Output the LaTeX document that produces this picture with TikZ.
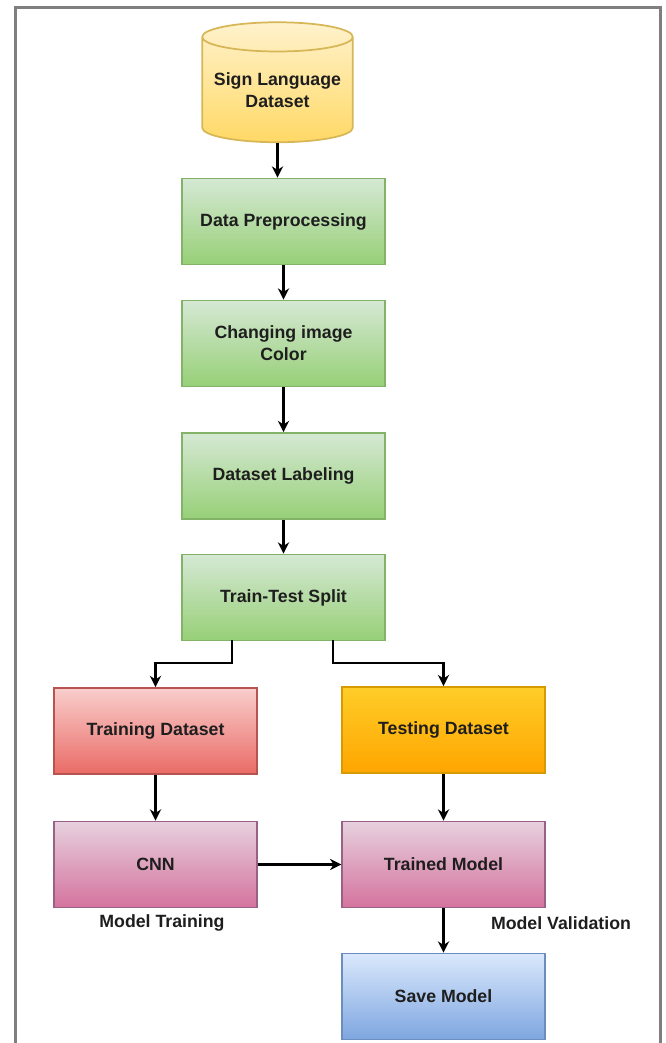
\documentclass[tikz,border=0pt]{standalone}
\usepackage{fontspec}
\setmainfont{Liberation Sans}
\usetikzlibrary{shapes.geometric,arrows.meta}

\definecolor{frameGray}{HTML}{7F7F7F}
\definecolor{txtDark}{HTML}{1E1E1E}
\definecolor{dbTop}{HTML}{FFF2CC}
\definecolor{dbBot}{HTML}{FFD966}
\definecolor{dbLine}{HTML}{D6B656}
\definecolor{grTop}{HTML}{D5E8D4}
\definecolor{grBot}{HTML}{97D077}
\definecolor{grLine}{HTML}{82B366}
\definecolor{rdTop}{HTML}{F8CECC}
\definecolor{rdBot}{HTML}{EA6B66}
\definecolor{rdLine}{HTML}{B85450}
\definecolor{orTop}{HTML}{FFCD28}
\definecolor{orBot}{HTML}{FFA500}
\definecolor{orLine}{HTML}{D79B00}
\definecolor{pkTop}{HTML}{E6D0DE}
\definecolor{pkBot}{HTML}{D5739D}
\definecolor{pkLine}{HTML}{996185}
\definecolor{blTop}{HTML}{DAE8FC}
\definecolor{blBot}{HTML}{7EA6E0}
\definecolor{blLine}{HTML}{6C8EBF}

\begin{document}
\begin{tikzpicture}[x=0.75pt, y=-0.75pt]
\tikzset{ >={Stealth[length=8.5pt,width=8.5pt]},
  txt/.style={font=\fontsize{13.3}{16.5}\selectfont\bfseries, text=txtDark, align=center},
  blk/.style={txt, rectangle, draw, line width=1.3pt, minimum width=152pt, minimum height=64.5pt, inner sep=2pt},
  green/.style={blk, draw=grLine, top color=grTop, bottom color=grBot},
  flw/.style={->, line width=2.1pt},
}

\useasboundingbox (0,0) rectangle (665,1043);

%\draw [lightgray, dashed](0,0) grid[step=50] (665,1043);

%%% Moldura
\draw [frameGray, line width=2.25pt] (15,1045) -- (15,7) -- (660,7) -- (660,1045);

%%% Blocos

% base de dados
\node [txt, cylinder, shape border rotate=90, aspect=0.23, draw=dbLine, line width=1.3pt,
       top color=dbTop, bottom color=dbBot, minimum width=113pt, minimum height=90pt,
       inner sep=0pt] (DB) at (277.5,90) {Sign Language\\Dataset};

% etapas de preparação
\node [green] (PRE) at (283.5,221.5) {Data Preprocessing};
\node [green] (COL) at (283.5,343.5) {Changing image\\Color};
\node [green] (LAB) at (283.5,476)   {Dataset Labeling};
\node [green] (SPL) at (283.5,597.5) {Train-Test Split};

% ramo de treino
\node [blk, draw=rdLine, top color=rdTop, bottom color=rdBot] (TRN) at (155.5,731)  {Training Dataset};
\node [blk, draw=pkLine, top color=pkTop, bottom color=pkBot] (CNN) at (155.5,864.5) {CNN};
\node [txt] (mtrain) at (162,923) {Model Training};

% ramo de teste
\node [blk, draw=orLine, top color=orTop, bottom color=orBot] (TST) at (443.5,730)  {Testing Dataset};
\node [blk, draw=pkLine, top color=pkTop, bottom color=pkBot] (MOD) at (443.5,864.5) {Trained Model};
\node [txt] (mval) at (561,923) {Model Validation};
\node [blk, draw=blLine, top color=blTop, bottom color=blBot] (SAV) at (443.5,996.5) {Save Model};

%%% Linhas

% base -> pré-processamento
\draw [flw] (DB.bottom) -- (DB.bottom |- PRE.north);

% sequência de preparação
\draw [flw] (PRE) -- (COL);
\draw [flw] (COL) -- (LAB);
\draw [flw] (LAB) -- (SPL);

% divisão treino / teste
\coordinate (SPLl) at (232,640);
\coordinate (SPLr) at (333,640);
\draw [flw] (SPLl) -- (232,663) -- (155.5,663) -- (TRN.north);
\draw [flw] (SPLr) -- (333,663) -- (443.5,663) -- (TST.north);

% treino
\draw [flw] (TRN) -- (CNN);
\draw [flw] (CNN) -- (MOD);

% teste
\draw [flw] (TST) -- (MOD);
\draw [flw] (MOD) -- (SAV);

\end{tikzpicture}
\end{document}
